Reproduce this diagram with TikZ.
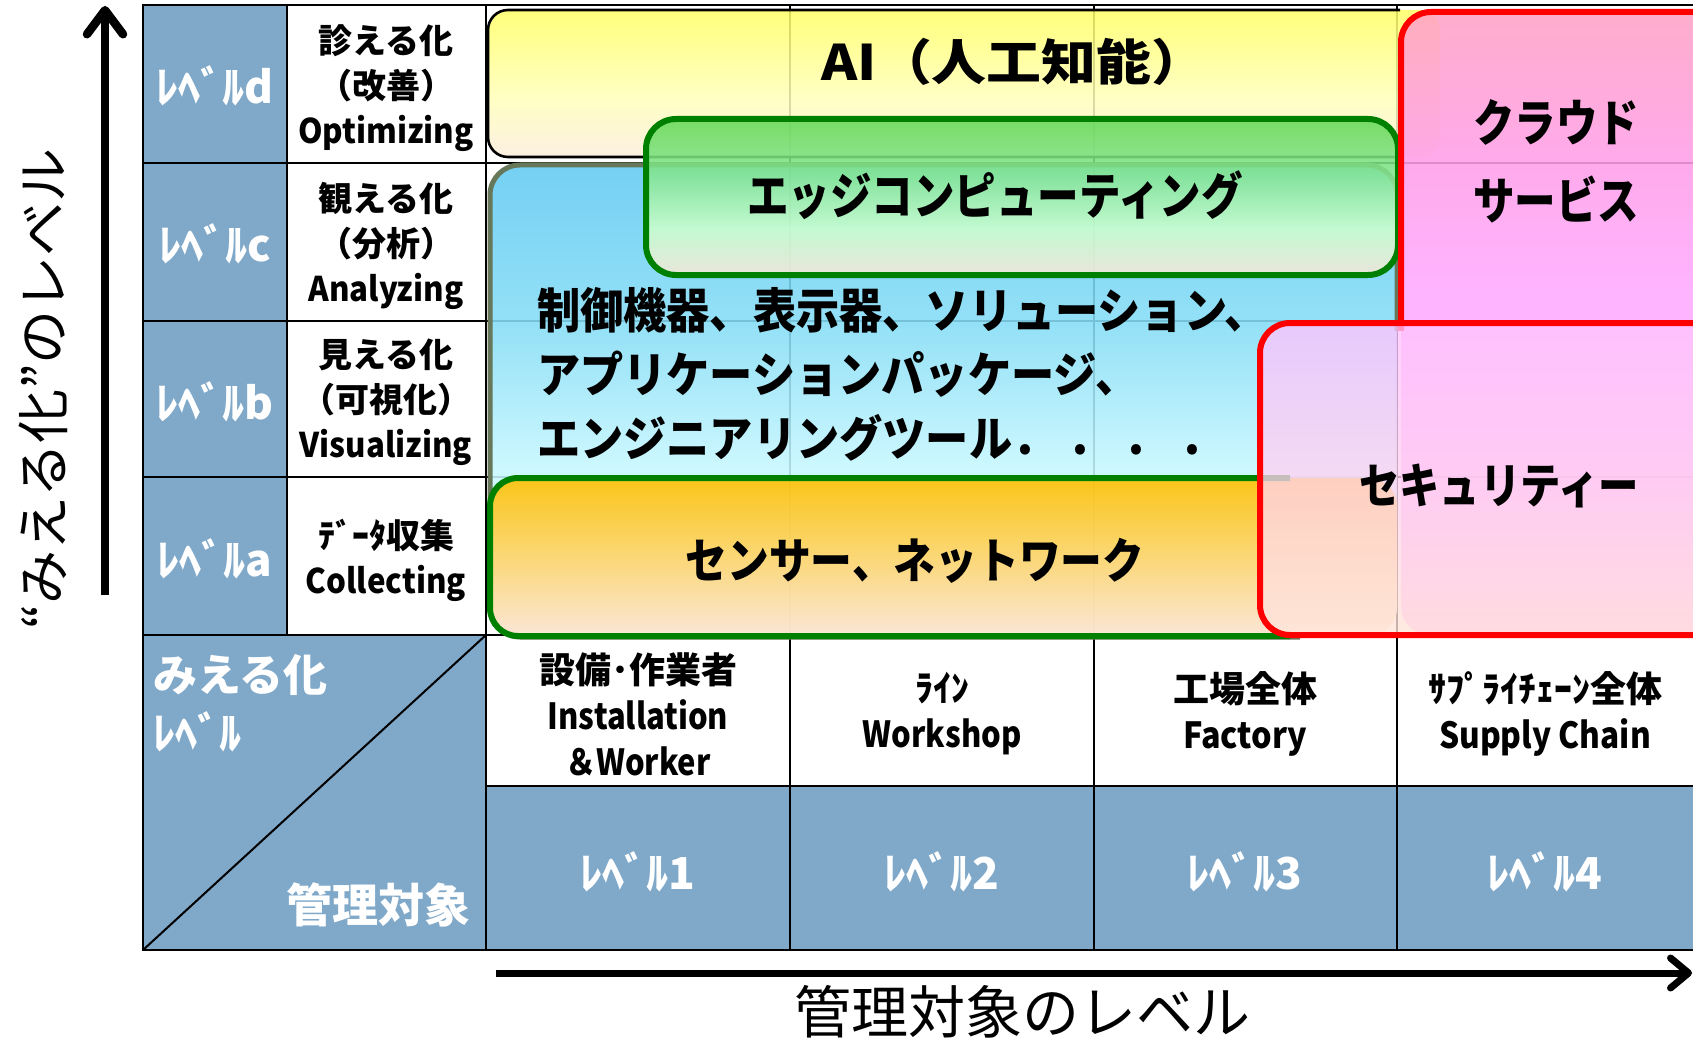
\documentclass[tikz,border=0pt]{standalone}
\usepackage{fontspec}
\setmainfont{Noto Sans CJK JP}
\usepackage{graphicx}
\usetikzlibrary{arrows.meta}

\definecolor{cellblue}{RGB}{127,168,201}
\definecolor{aiA}{HTML}{FFFF66}
\definecolor{aiB}{HTML}{FFFFBB}
\definecolor{aiC}{HTML}{FCEEDD}
\definecolor{blA}{HTML}{62CAF2}
\definecolor{blB}{HTML}{86DDF6}
\definecolor{blC}{HTML}{C8F8FF}
\definecolor{blD}{HTML}{E0FFFF}
\definecolor{grA}{HTML}{66D957}
\definecolor{grB}{HTML}{84E58F}
\definecolor{grC}{HTML}{CCFFCC}
\definecolor{grD}{HTML}{F8E8D8}
\definecolor{orA}{HTML}{FFC000}
\definecolor{orB}{HTML}{FFD468}
\definecolor{orC}{HTML}{FEE4D4}
\definecolor{pkA}{HTML}{FFA2C6}
\definecolor{pkB}{HTML}{FF9FEA}
\definecolor{pkC}{HTML}{FFAAFF}
\definecolor{pkD}{HTML}{FFB0FF}
\definecolor{scA}{HTML}{FFC4FF}
\definecolor{scB}{HTML}{FFD2F0}
\definecolor{scC}{HTML}{FFE6D8}
\definecolor{edgegreen}{HTML}{008000}
\definecolor{bluegray}{HTML}{66775A}

\pgfdeclareverticalshading{aish}{100bp}{color(0bp)=(aiC); color(25bp)=(aiC); color(45bp)=(aiB); color(75bp)=(aiA); color(100bp)=(aiA)}
\pgfdeclareverticalshading{blsh}{100bp}{color(0bp)=(blD); color(25bp)=(blD); color(42.5bp)=(blC); color(58bp)=(blB); color(75bp)=(blA); color(100bp)=(blA)}
\pgfdeclareverticalshading{grsh}{100bp}{color(0bp)=(grD); color(25bp)=(grD); color(40bp)=(grC); color(57.5bp)=(grB); color(75bp)=(grA); color(100bp)=(grA)}
\pgfdeclareverticalshading{orsh}{100bp}{color(0bp)=(orC); color(25bp)=(orC); color(50bp)=(orB); color(75bp)=(orA); color(100bp)=(orA)}
\pgfdeclareverticalshading{pksh}{100bp}{color(0bp)=(pkD); color(25bp)=(pkD); color(52.5bp)=(pkC); color(62.5bp)=(pkB); color(75bp)=(pkA); color(100bp)=(pkA)}
\pgfdeclareverticalshading{scsh}{100bp}{color(0bp)=(scC); color(25bp)=(scC); color(50bp)=(scB); color(75bp)=(scA); color(100bp)=(scA)}

\newcommand{\sx}[2]{\scalebox{#1}[1]{#2}}

\begin{document}
\begin{tikzpicture}[x=1pt,y=-1pt,
  every node/.style={inner sep=0pt,outer sep=0pt},
  grid/.style={line width=2.4pt,black,line cap=rect},
  bigtxt/.style={font=\bfseries\fontsize{48}{58}\selectfont},
  lvl/.style={font=\bfseries\fontsize{44}{52}\selectfont,text=white},
  desc/.style={font=\bfseries\fontsize{34}{45}\selectfont,align=center},
  head/.style={font=\bfseries\fontsize{36}{46}\selectfont,align=center},
  axisarrow/.style={black,line cap=butt}]
\useasboundingbox (0,0) rectangle (1693,1043);
\clip (0,0) rectangle (1693,1043);
\fill[white] (0,0) rectangle (1693,1043);

% ---- table cells ----
\fill[cellblue] (143,5) rectangle (287,635);
\fill[cellblue] (143,635) rectangle (486,950);
\fill[cellblue] (486,786) rectangle (1693,950);

% ---- grid ----
\draw[grid] (143,5) -- (1693,5);
\draw[grid] (143,5) -- (143,950);
\draw[grid] (143,950) -- (1693,950);
\foreach \yy in {163,321,477,635} \draw[grid] (143,\yy) -- (1693,\yy);
\draw[grid] (486,786) -- (1693,786);
\draw[grid] (287,5) -- (287,635);
\foreach \xx in {486,790,1094,1397} \draw[grid] (\xx,5) -- (\xx,950);
\draw[line width=2pt] (143,950) -- (486,635);

% ---- AI box ----
\shade[shading=aish,fill opacity=.86,rounded corners=20pt] (488,10) rectangle (1440,157);
\begin{scope}
\clip (0,0) rectangle (1400,1043);
\draw[line width=2.6pt,rounded corners=20pt] (488,10) rectangle (1440,157);
\end{scope}

% ---- blue box ----
\shade[shading=blsh,fill opacity=.88,rounded corners=30pt] (490,165) rectangle (1397,637);
\begin{scope}
\clip (0,0) rectangle (1300,1043);
\draw[line width=5pt,bluegray,rounded corners=30pt] (490,165) rectangle (1397,637);
\end{scope}
\begin{scope}
\clip (1300,0) rectangle (1693,330);
\draw[line width=5pt,bluegray,rounded corners=30pt] (490,165) rectangle (1397,637);
\end{scope}
\node[bigtxt,font=\bfseries\fontsize{48}{64}\selectfont,anchor=west,align=left] (ctrl) at (537,374)
  {\sx{.9}{制御機器、表示器、ソリューション、}\\
   \sx{.9}{アプリケーションパッケージ、}\\
   \sx{.9}{エンジニアリングツール．\hspace{14pt}．\hspace{14pt}．\hspace{14pt}．}};

% ---- AI text ----
\node[bigtxt,font=\bfseries\fontsize{49}{58}\selectfont] (ai) at (1014,62) {\sx{1.12}{AI（人工知能）}};

% ---- edge computing box ----
\shade[shading=grsh,fill opacity=.88,rounded corners=30pt] (646,119) rectangle (1398,275);
\draw[line width=6pt,edgegreen,rounded corners=30pt] (646,119) rectangle (1398,275);
\node[bigtxt,font=\bfseries\fontsize{50}{60}\selectfont] (edge) at (995,195) {\sx{.83}{エッジコンピューティング}};

% ---- sensor box ----
\shade[shading=orsh,fill opacity=.9,rounded corners=28pt] (490,478) rectangle (1397,636);
\begin{scope}
\clip (0,0) rectangle (1290,1043);
\draw[line width=6pt,edgegreen,rounded corners=28pt] (490,478) rectangle (1397,636);
\end{scope}
\node[bigtxt] (sensor) at (915,561) {\sx{.87}{センサー、ネットワーク}};

% ---- cloud box ----
\shade[shading=pksh,fill opacity=.88,rounded corners=30pt] (1401,12) rectangle (1740,636);
\begin{scope}
\clip (0,0) rectangle (1693,330);
\draw[line width=6pt,red,rounded corners=30pt] (1401,12) rectangle (1740,636);
\end{scope}
\node[bigtxt,font=\bfseries\fontsize{50}{78}\selectfont,align=center] (cloud) at (1556,161)
  {\sx{.83}{クラウド}\\\sx{.83}{サービス}};

% ---- security box ----
\shade[shading=scsh,fill opacity=.78,rounded corners=30pt] (1260,323) rectangle (1740,635);
\draw[line width=6pt,red,rounded corners=30pt] (1260,323) rectangle (1740,635);
\node[bigtxt] (sec) at (1499,486) {\sx{.84}{セキュリティー}};

% ---- left columns ----
\node[lvl] (ld) at (215,86) {ﾚﾍﾞﾙd};
\node[lvl] (lc) at (215,244) {ﾚﾍﾞﾙc};
\node[lvl] (lb) at (215,402) {ﾚﾍﾞﾙb};
\node[lvl] (la) at (215,559) {ﾚﾍﾞﾙa};
\node[desc] (dd) at (386,88) {診える化\\（改善）\\\sx{.92}{Optimizing}};
\node[desc] (dc) at (386,246) {観える化\\（分析）\\\sx{.92}{Analyzing}};
\node[desc] (db) at (386,402) {見える化\\（可視化）\\\sx{.92}{Visualizing}};
\node[desc] (da) at (386,560) {ﾃﾞｰﾀ収集\\\sx{.92}{Collecting}};

% ---- bottom-left corner cell ----
\node[lvl,anchor=west] (mie) at (153,675) {みえる化};
\node[lvl,anchor=west] (mlv) at (153,732) {ﾚﾍﾞﾙ};
\node[lvl,font=\bfseries\fontsize{46}{52}\selectfont] (kanri) at (378,905) {管理対象};

% ---- header row ----
\node[head] (h1) at (638,714) {設備･作業者\\\sx{.86}{Installation}\\\sx{.86}{＆Worker}};
\node[head] (h2) at (942,714) {ﾗｲﾝ\\\sx{.86}{Workshop}};
\node[head] (h3) at (1245,714) {工場全体\\\sx{.9}{Factory}};
\node[head] (h4) at (1545,714) {ｻﾌﾟﾗｲﾁｪｰﾝ全体\\\sx{.88}{Supply Chain}};

% ---- level row ----
\node[lvl] (l1) at (638,872) {ﾚﾍﾞﾙ1};
\node[lvl] (l2) at (942,872) {ﾚﾍﾞﾙ2};
\node[lvl] (l3) at (1245,872) {ﾚﾍﾞﾙ3};
\node[lvl] (l4) at (1545,872) {ﾚﾍﾞﾙ4};

% ---- axes ----
\coordinate (vS) at (105,595);
\coordinate (vE) at (105,6);
\draw[axisarrow,line width=8.5pt,-{Straight Barb[length=24pt,width=36pt,round]}] (vS) -- (vE);
\coordinate (hS) at (496,973);
\coordinate (hE) at (1692,973);
\draw[axisarrow,line width=7pt,-{Straight Barb[length=18pt,width=30pt,round]}] (hS) -- (hE);

\node[font=\fontsize{54}{60}\selectfont,rotate=90] (vlab) at (43,389) {“みえる化”のレベル};
\node[font=\fontsize{57}{64}\selectfont,anchor=base] (hlab) at (1022,1033) {管理対象のレベル};
\end{tikzpicture}
\end{document}
